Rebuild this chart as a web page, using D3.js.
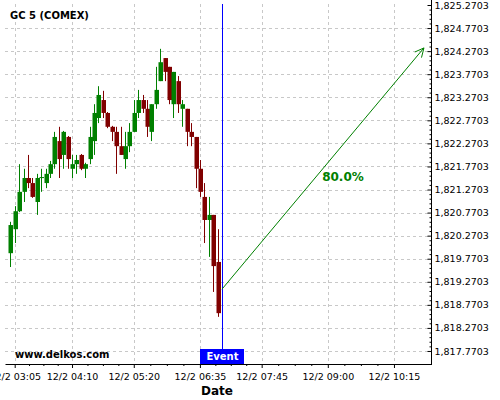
<!DOCTYPE html>
<html>
<head>
<meta charset="utf-8">
<script src="https://cdn.jsdelivr.net/npm/d3@7/dist/d3.min.js"></script>
<style>
  body { margin: 0; background: #fff; }
  text { font-family: "DejaVu Sans", sans-serif; }
</style>
</head>
<body>
<div id="chart"></div>
<script>
var times = ['03:00','03:05','03:10','03:15','03:20','03:25','03:30','03:35','03:40','03:45','03:50','03:55',
             '04:00','04:05','04:10','04:15','04:20','04:25','04:30','04:35','04:40','04:45','04:50','04:55',
             '05:00','05:05','05:10','05:15','05:20','05:25','05:30','05:35','05:40','05:45','05:50','05:55',
             '06:00','06:05','06:10','06:15','06:20','06:25','06:30','06:35','06:40','06:45','06:50','06:55'];
var opens = [1819.89,1820.41,1820.80,1821.22,1821.52,1821.41,1821.00,1821.52,1821.41,1821.61,
             1821.82,1822.32,1822.02,1822.41,1821.72,1821.82,1822.02,1821.72,1821.93,1822.32,
             1822.82,1823.21,1822.93,1822.63,1822.52,1822.21,1821.93,1822.21,1822.52,1822.93,
             1823.21,1823.02,1822.52,1823.12,1823.62,1824.12,1823.93,1823.12,1823.62,1823.02,
             1823.02,1822.52,1822.41,1821.72,1821.11,1820.61,1820.72,1819.70];
var highs = [1820.57,1820.91,1821.82,1821.72,1822.02,1821.52,1821.61,1821.72,1821.72,1821.89,
             1822.52,1822.63,1822.54,1822.43,1822.02,1822.02,1822.04,1821.85,1822.63,1823.12,
             1823.51,1823.41,1822.95,1822.65,1822.63,1822.63,1822.52,1822.71,1823.21,1823.43,
             1823.32,1823.21,1823.12,1823.93,1824.32,1824.12,1823.93,1823.82,1823.73,1823.21,
             1823.02,1822.71,1822.41,1821.91,1821.41,1821.11,1820.72,1820.41];
var lows = [1819.59,1820.11,1820.78,1821.00,1821.30,1821.09,1820.72,1821.22,1821.30,1821.52,
            1821.72,1821.52,1821.72,1821.72,1821.52,1821.61,1821.69,1821.52,1821.82,1822.02,
            1822.71,1822.82,1822.60,1822.32,1821.61,1822.02,1821.72,1822.08,1822.52,1822.82,
            1822.93,1822.41,1822.32,1823.02,1823.62,1823.62,1823.12,1822.82,1822.93,1822.63,
            1822.21,1822.21,1821.30,1821.11,1820.11,1819.81,1819.05,1818.51];
var closes = [1820.50,1820.80,1821.22,1821.52,1821.41,1821.11,1821.52,1821.54,1821.61,1821.82,
              1822.41,1821.93,1822.52,1821.93,1821.82,1821.91,1821.72,1821.82,1822.41,1822.93,
              1823.32,1822.93,1822.63,1822.52,1822.21,1822.02,1822.21,1822.52,1822.93,1823.21,
              1823.02,1822.63,1823.12,1823.43,1824.03,1823.82,1823.21,1823.82,1823.12,1823.12,
              1822.52,1822.41,1821.72,1821.22,1820.61,1820.72,1819.61,1818.59];

var xTickLabels = ['12/2 03:05','12/2 04:10','12/2 05:20','12/2 06:35','12/2 07:45','12/2 09:00','12/2 10:15'];
var yTickValues = [1817.7703,1818.2703,1818.7703,1819.2703,1819.7703,1820.2703,1820.7703,1821.2703,
                   1821.7703,1822.2703,1822.7703,1823.2703,1823.7703,1824.2703,1824.7703,1825.2703];
var eventTime = '07:00';
var arrowFrom = ['07:00', 1819.11];
var arrowTo = ['10:49', 1824.34];
var probability = '80.0%';

var width = 500, height = 400;
var plotLeft = 5, plotRight = 431, plotTop = 4, plotBottom = 364;
var green = '#008000', red = '#800000';

var parse = d3.timeParse('%H:%M');

var x = d3.scaleTime()
  .domain([parse('02:54'), parse('10:57')])
  .range([plotLeft, plotRight]);
var y = d3.scaleLinear()
  .domain([1817.4879, 1825.2920])
  .range([plotBottom, plotTop]);

var svg = d3.select('#chart')
  .append('svg')
  .attr('width', width)
  .attr('height', height);

// grid
var xTicks = xTickLabels.map(function(s) { return parse(s.split(' ')[1]); });
svg.append('g').selectAll('line')
  .data(xTicks)
  .enter().append('line')
  .attr('x1', function(d) { return Math.round(x(d)) + 0.5; })
  .attr('x2', function(d) { return Math.round(x(d)) + 0.5; })
  .attr('y1', plotTop).attr('y2', plotBottom)
  .attr('stroke', '#c8c8c8').attr('stroke-dasharray', '3,3');
svg.append('g').selectAll('line')
  .data(yTickValues.slice(0, -1))
  .enter().append('line')
  .attr('x1', plotLeft).attr('x2', plotRight)
  .attr('y1', function(d) { return Math.round(y(d)) + 0.5; })
  .attr('y2', function(d) { return Math.round(y(d)) + 0.5; })
  .attr('stroke', '#c8c8c8').attr('stroke-dasharray', '3,3');

// candles
var candles = svg.append('g').selectAll('g')
  .data(times)
  .enter().append('g');
candles.append('line')
  .attr('x1', function(d) { return Math.round(x(parse(d))) + 0.5; })
  .attr('x2', function(d) { return Math.round(x(parse(d))) + 0.5; })
  .attr('y1', function(d, i) { return y(highs[i]); })
  .attr('y2', function(d, i) { return y(lows[i]); })
  .attr('stroke', function(d, i) { return closes[i] >= opens[i] ? green : red; });
candles.append('rect')
  .attr('x', function(d) { return Math.round(x(parse(d))) - 1.5; })
  .attr('width', 4.5)
  .attr('y', function(d, i) { return y(Math.max(opens[i], closes[i])); })
  .attr('height', function(d, i) { return Math.max(1, Math.abs(y(opens[i]) - y(closes[i]))); })
  .attr('fill', function(d, i) { return closes[i] >= opens[i] ? green : red; });

// event line
var ex = Math.round(x(parse(eventTime))) + 0.5;
svg.append('line')
  .attr('x1', ex).attr('x2', ex)
  .attr('y1', plotTop).attr('y2', plotBottom)
  .attr('stroke', '#0000ff');

// arrow
var ax1 = x(parse(arrowFrom[0])), ay1 = y(arrowFrom[1]);
var ax2 = x(parse(arrowTo[0])), ay2 = y(arrowTo[1]);
var ang = Math.atan2(ay2 - ay1, ax2 - ax1);
svg.append('line')
  .attr('x1', ax1).attr('y1', ay1).attr('x2', ax2).attr('y2', ay2)
  .attr('stroke', green);
[-0.45, 0.45].forEach(function(a) {
  svg.append('line')
    .attr('x1', ax2).attr('y1', ay2)
    .attr('x2', ax2 - 10 * Math.cos(ang + a))
    .attr('y2', ay2 - 10 * Math.sin(ang + a))
    .attr('stroke', green);
});
svg.append('text')
  .attr('x', (ax1 + ax2) / 2 + 20)
  .attr('y', (ay1 + ay2) / 2 + 12)
  .attr('text-anchor', 'middle')
  .attr('font-size', '12px')
  .attr('font-weight', 'bold')
  .attr('fill', green)
  .text(probability);

// axes
svg.append('g')
  .attr('transform', 'translate(0,' + plotBottom + ')')
  .call(d3.axisBottom(x).tickValues(xTicks).tickSize(4).tickSizeOuter(0).tickPadding(5)
    .tickFormat(function(d, i) { return xTickLabels[i]; }));
var xMinor = [];
for (var i = 0; i < xTicks.length - 1; i++) {
  for (var k = 1; k < 4; k++) {
    xMinor.push(new Date(+xTicks[i] + (xTicks[i + 1] - xTicks[i]) * k / 4));
  }
}
svg.append('g')
  .attr('transform', 'translate(0,' + plotBottom + ')')
  .call(d3.axisBottom(x).tickValues(xMinor).tickSize(2).tickSizeOuter(0).tickFormat(''))
  .select('.domain').remove();

var yAxis = svg.append('g')
  .attr('transform', 'translate(' + (plotRight + 0.5) + ',0)')
  .call(d3.axisRight(y).tickValues(yTickValues).tickSizeInner(-4).tickSizeOuter(0).tickPadding(3)
    .tickFormat(d3.format(',.4f')));
var yMinor = [];
yTickValues.forEach(function(v) {
  [0.1, 0.2, 0.3, 0.4].forEach(function(s) { yMinor.push(v + s); });
});
svg.append('g')
  .attr('transform', 'translate(' + (plotRight + 0.5) + ',0)')
  .call(d3.axisRight(y).tickValues(yMinor.filter(function(v) { return v < 1825.29; }))
    .tickSizeInner(-2).tickSizeOuter(0).tickFormat(''))
  .select('.domain').remove();
yAxis.select('.domain').attr('d', 'M0,0V' + (plotBottom + 1));

svg.selectAll('.tick text')
  .attr('font-family', '"DejaVu Sans", sans-serif')
  .attr('font-size', '9.5px')
  .attr('fill', '#000');

// event label
svg.append('rect')
  .attr('x', ex - 22.5).attr('y', plotBottom - 15)
  .attr('width', 44).attr('height', 15)
  .attr('fill', '#0000ff');
svg.append('text')
  .attr('x', ex).attr('y', plotBottom - 4)
  .attr('text-anchor', 'middle')
  .attr('font-size', '10px').attr('font-weight', 'bold')
  .attr('fill', '#fff')
  .text('Event');

// texts
svg.append('text')
  .attr('x', 10).attr('y', 19)
  .attr('font-size', '10px').attr('font-weight', 'bold')
  .text('GC 5 (COMEX)');
svg.append('text')
  .attr('x', 15).attr('y', 358)
  .attr('font-size', '10px').attr('font-weight', 'bold')
  .text('www.delkos.com');
svg.append('text')
  .attr('x', 217).attr('y', 395)
  .attr('text-anchor', 'middle')
  .attr('font-size', '12px').attr('font-weight', 'bold')
  .text('Date');
</script>
</body>
</html>
